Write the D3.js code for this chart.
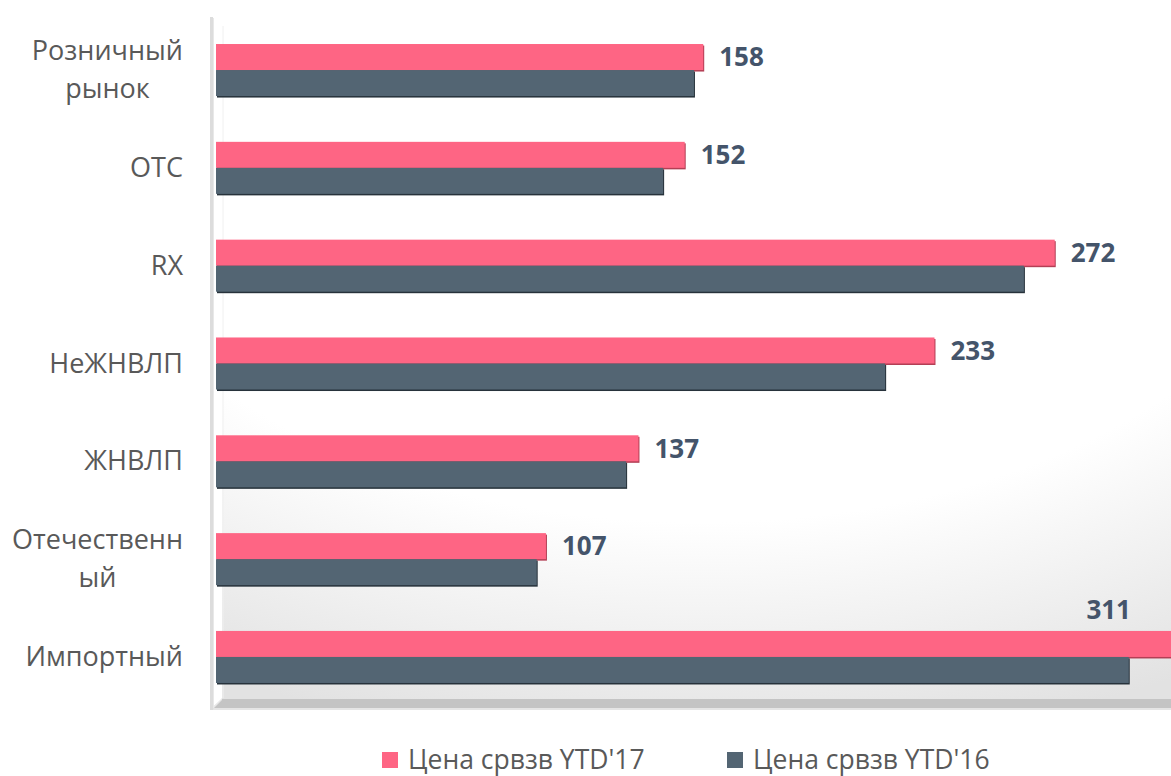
<!DOCTYPE html>
<html><head><meta charset="utf-8">
<script src="https://cdn.jsdelivr.net/npm/d3@7"></script>
<style>
html,body{margin:0;padding:0;background:#fff;}
svg{display:block;font-family:"Open Sans",Lato,sans-serif;}
</style></head>
<body>
<svg id="c" width="1171" height="776"></svg>
<script>
const categories = [["Розничный","рынок"],["ОТС"],["RX"],["НеЖНВЛП"],["ЖНВЛП"],["Отечественн","ый"],["Импортный"]];
const categoryNames = ["Розничный рынок","ОТС","RX","НеЖНВЛП","ЖНВЛП","Отечественный","Импортный"];
const seriesNames = ["Цена срвзв YTD'17","Цена срвзв YTD'16"];
const values17 = [158,152,272,233,137,107,311];
const values16 = [155,145,262,217,133,104,296];
const colors = ["#fe6584","#536573"];

const svg = d3.select("#c");
const defs = svg.append("defs");
const rg = defs.append("radialGradient").attr("id","wall")
  .attr("gradientUnits","userSpaceOnUse").attr("cx",700).attr("cy",150).attr("r",600)
  .attr("gradientTransform","translate(700,150) scale(1.67,1) translate(-700,-150)");
rg.append("stop").attr("offset","0.62").attr("stop-color","#ffffff");
rg.append("stop").attr("offset","1").attr("stop-color","#e2e2e2");

const x = d3.scaleLinear().domain([0,311]).range([216,1175]);
const y = d3.scaleBand().domain(categoryNames).range([18,709]).paddingInner(0.468).paddingOuter(0.266);
const ys = d3.scaleBand().domain(seriesNames).range([0,y.bandwidth()]);

// wall background
svg.append("rect").attr("x",222).attr("y",18).attr("width",949).attr("height",682).attr("fill","url(#wall)");
svg.append("line").attr("x1",223).attr("x2",223).attr("y1",26).attr("y2",698).attr("stroke","#f0f0f0").attr("stroke-width",1);
// floor
svg.append("polygon").attr("points","222,699 1171,699 1171,708 212,708").attr("fill","#c4c4c4");
svg.append("polygon").attr("points","212,18 214,18 214,706 222,698 222,700 212,710").attr("fill","#e8e8e8");
// left wall line
svg.append("rect").attr("x",210).attr("y",17).attr("width",3).attr("height",693).attr("fill","#dcdcdc");
svg.append("line").attr("x1",212).attr("x2",1171).attr("y1",709).attr("y2",709).attr("stroke","#dcdcdc").attr("stroke-width",1.5);

const rows = categoryNames.map((c,i)=>({c, v:[values17[i],values16[i]]}));
const g = svg.append("g");
rows.forEach(r=>{
  r.v.forEach((v,j)=>{
    const y0 = y(r.c)+ys(seriesNames[j]);
    const w = x(v)-x(0);
    g.append("rect").attr("x",x(0)+1).attr("y",y0+1.5).attr("width",w).attr("height",ys.bandwidth())
      .attr("fill", j===0 ? "#b33f55" : "#27323b");
    g.append("rect").attr("x",x(0)).attr("y",y0).attr("width",w).attr("height",ys.bandwidth())
      .attr("fill",colors[j]);
  });
});
// value labels
rows.forEach(r=>{
  const v = r.v[0];
  const yc = y(r.c)+ys(seriesNames[0])+ys.bandwidth()/2;
  const fits = x(v)+70 < 1171;
  svg.append("text")
    .attr("x", fits ? x(v)+16 : x(v)-44)
    .attr("y", fits ? yc : y(r.c)-21)
    .attr("dy","0.36em")
    .attr("text-anchor", fits ? "start" : "end")
    .attr("font-size",26).attr("font-weight","bold").attr("fill","#44546a")
    .text(v);
});
// category labels
categories.forEach((lines,i)=>{
  const yc = y(categoryNames[i])+y.bandwidth()/2;
  const t = svg.append("text").attr("font-size",27).attr("fill","#595959").attr("text-anchor","middle");
  const lh = 38;
  lines.forEach((ln,k)=>{
    t.append("tspan").attr("y", yc + (k-(lines.length-1)/2)*lh).attr("dy","0.34em").text(ln);
  });
  let w = 0;
  t.selectAll("tspan").each(function(){ w = Math.max(w, this.getComputedTextLength()); });
  t.selectAll("tspan").attr("x", 183 - w/2);
});
// legend
const lx = [382,727];
seriesNames.forEach((s,j)=>{
  svg.append("rect").attr("x",lx[j]).attr("y",752).attr("width",16).attr("height",16).attr("fill",colors[j]);
  svg.append("text").attr("x",lx[j]+26).attr("y",760).attr("dy","0.34em").attr("font-size",26.5).attr("fill","#595959").text(s);
});
</script>
</body></html>
